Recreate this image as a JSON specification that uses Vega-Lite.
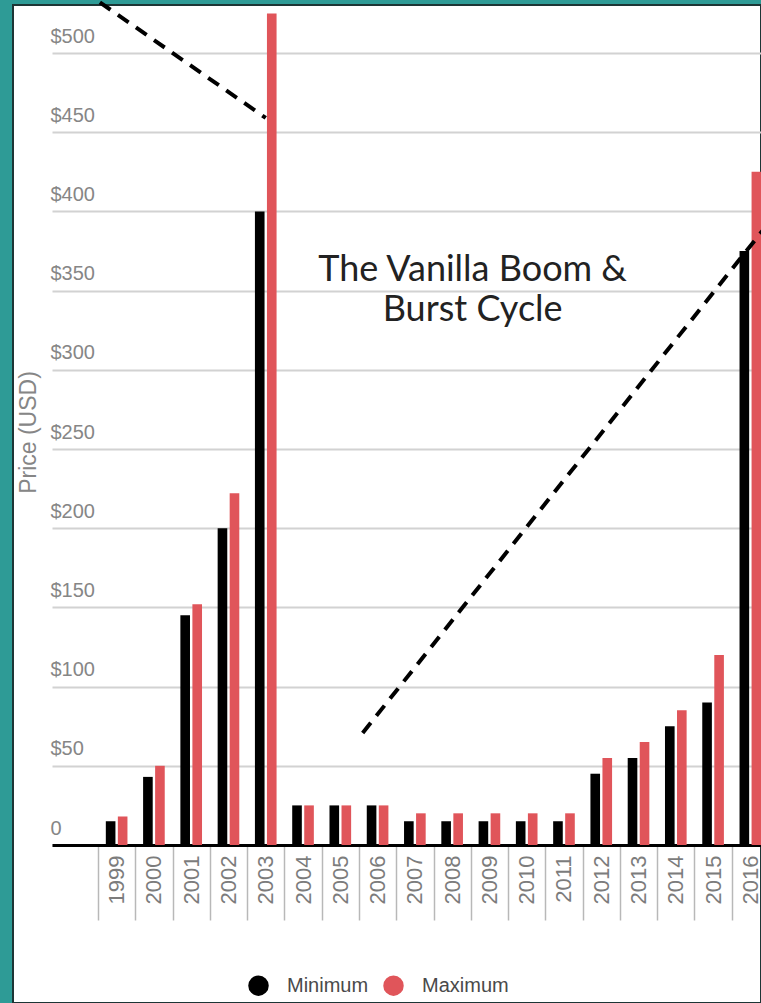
{
  "$schema": "https://vega.github.io/schema/vega-lite/v6.json",
  "width": 748,
  "height": 998,
  "autosize": "none",
  "padding": {"left": 13, "top": 5, "right": 0, "bottom": 0},
  "background": "#2e9b96",
  "config": {
    "view": {"fill": "white", "stroke": "#1d3535", "strokeWidth": 2},
    "font": "Liberation Sans"
  },
  "layer": [
    {
      "data": {
        "values": [
          {"year": "1999", "series": "Minimum", "price": 15}, {"year": "1999", "series": "Maximum", "price": 18},
          {"year": "2000", "series": "Minimum", "price": 43}, {"year": "2000", "series": "Maximum", "price": 50},
          {"year": "2001", "series": "Minimum", "price": 145}, {"year": "2001", "series": "Maximum", "price": 152},
          {"year": "2002", "series": "Minimum", "price": 200}, {"year": "2002", "series": "Maximum", "price": 222},
          {"year": "2003", "series": "Minimum", "price": 400}, {"year": "2003", "series": "Maximum", "price": 525},
          {"year": "2004", "series": "Minimum", "price": 25}, {"year": "2004", "series": "Maximum", "price": 25},
          {"year": "2005", "series": "Minimum", "price": 25}, {"year": "2005", "series": "Maximum", "price": 25},
          {"year": "2006", "series": "Minimum", "price": 25}, {"year": "2006", "series": "Maximum", "price": 25},
          {"year": "2007", "series": "Minimum", "price": 15}, {"year": "2007", "series": "Maximum", "price": 20},
          {"year": "2008", "series": "Minimum", "price": 15}, {"year": "2008", "series": "Maximum", "price": 20},
          {"year": "2009", "series": "Minimum", "price": 15}, {"year": "2009", "series": "Maximum", "price": 20},
          {"year": "2010", "series": "Minimum", "price": 15}, {"year": "2010", "series": "Maximum", "price": 20},
          {"year": "2011", "series": "Minimum", "price": 15}, {"year": "2011", "series": "Maximum", "price": 20},
          {"year": "2012", "series": "Minimum", "price": 45}, {"year": "2012", "series": "Maximum", "price": 55},
          {"year": "2013", "series": "Minimum", "price": 55}, {"year": "2013", "series": "Maximum", "price": 65},
          {"year": "2014", "series": "Minimum", "price": 75}, {"year": "2014", "series": "Maximum", "price": 85},
          {"year": "2015", "series": "Minimum", "price": 90}, {"year": "2015", "series": "Maximum", "price": 120},
          {"year": "2016", "series": "Minimum", "price": 375}, {"year": "2016", "series": "Maximum", "price": 425}
        ]
      },
      "mark": {"type": "bar"},
      "encoding": {
        "x": {
          "field": "year",
          "type": "nominal",
          "scale": {"range": [39, 756], "paddingInner": 0, "paddingOuter": 0.617, "align": 1},
          "axis": {
            "orient": "bottom",
            "offset": -158,
            "title": null,
            "labelAngle": -90,
            "labelFontSize": 22,
            "labelColor": "#7c7c7c",
            "labelPadding": -65,
            "tickBand": "extent",
            "tickSize": 75,
            "tickColor": "#b8b8b8",
            "tickWidth": 1.5,
            "domainColor": "#000000",
            "domainWidth": 3,
            "grid": false
          }
        },
        "y": {
          "field": "price",
          "type": "quantitative",
          "scale": {"domain": [0, 500], "range": [840, 48], "nice": false, "zero": false},
          "axis": {
            "orient": "left",
            "offset": -37,
            "values": [0, 50, 100, 150, 200, 250, 300, 350, 400, 450, 500],
            "labelExpr": "datum.value === 0 ? '0' : '$' + datum.value",
            "domain": false,
            "ticks": false,
            "tickSize": 0,
            "labelPadding": 0,
            "labelAlign": "left",
            "labelBaseline": "bottom",
            "labelOffset": -7,
            "labelFontSize": 20,
            "labelColor": "#868686",
            "grid": true,
            "gridColor": "#d2d2d2",
            "gridWidth": 2,
            "title": "Price (USD)",
            "titleFontSize": 23,
            "titleFontWeight": "normal",
            "titleColor": "#868686",
            "titleX": -22,
            "titleY": 427,
            "titleAngle": -90,
            "titleAlign": "center",
            "titleBaseline": "middle"
          }
        },
        "xOffset": {
          "field": "series",
          "type": "nominal",
          "scale": {"domain": ["Minimum", "Maximum"], "paddingInner": 0.2, "paddingOuter": 0.65}
        },
        "color": {
          "field": "series",
          "type": "nominal",
          "scale": {"domain": ["Minimum", "Maximum"], "range": ["#000000", "#e0555a"]},
          "legend": {
            "orient": "none",
            "legendX": 235,
            "legendY": 970,
            "direction": "horizontal",
            "title": null,
            "symbolType": "circle",
            "symbolSize": 420,
            "symbolStrokeWidth": 0,
            "labelFontSize": 20,
            "labelColor": "#4a4a4a",
            "labelOffset": 18,
            "columnPadding": 14
          }
        }
      }
    },
    {
      "data": {"values": [{}]},
      "mark": {"type": "rule", "color": "#000000", "strokeWidth": 4, "strokeDash": [13, 9]},
      "encoding": {
        "x": {"datum": "1999", "type": "nominal", "bandPosition": 0.05},
        "x2": {"datum": "2003"},
        "y": {"datum": 532, "type": "quantitative"},
        "y2": {"datum": 459}
      }
    },
    {
      "data": {"values": [{}]},
      "mark": {"type": "rule", "color": "#000000", "strokeWidth": 4, "strokeDash": [13, 9]},
      "encoding": {
        "x": {"datum": "2006", "type": "nominal", "bandPosition": 0.1},
        "x2": {"datum": "2016", "bandPosition": 0.9},
        "y": {"datum": 70.7, "type": "quantitative"},
        "y2": {"datum": 390}
      }
    },
    {
      "data": {"values": [{}]},
      "mark": {
        "type": "text",
        "text": ["The Vanilla Boom &", "Burst Cycle"],
        "font": "Lato",
        "fontSize": 36,
        "lineHeight": 40,
        "align": "center",
        "baseline": "middle",
        "color": "#222222"
      },
      "encoding": {
        "x": {"datum": "2009", "type": "nominal", "bandPosition": 0.05},
        "y": {"datum": 363, "type": "quantitative"}
      }
    }
  ]
}
